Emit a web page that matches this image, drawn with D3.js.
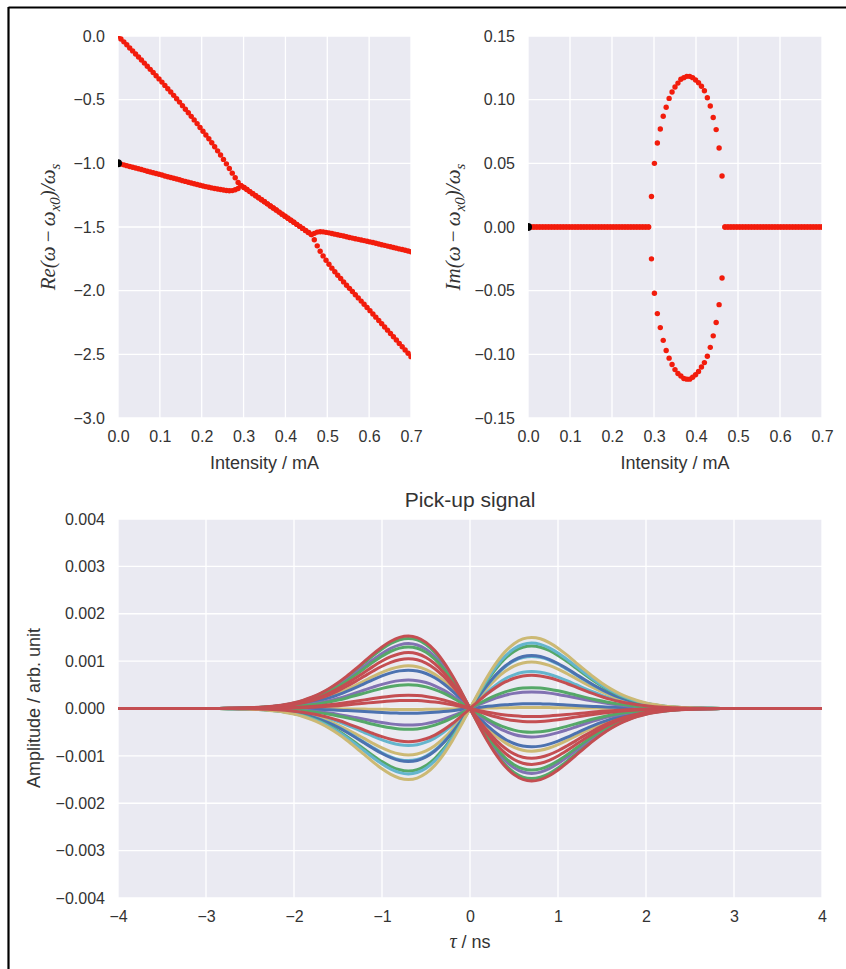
<!DOCTYPE html>
<html><head><meta charset="utf-8">
<script src="https://cdn.jsdelivr.net/npm/d3@7"></script>
<style>
body{margin:0;background:#fff}
svg text{font-family:"Liberation Sans",Arial,sans-serif;fill:#333}
</style>
</head><body>
<svg id="c" width="846" height="969"></svg>
<script>
// ---------------- DATA ----------------
const intensityStart = 0, intensityStep = 0.007, intensityCount = 101;
// Re branch 1 (upper, from 0) up to coalescence, k=0..41
const reUpperBefore = [0.000,-0.023,-0.046,-0.069,-0.094,-0.117,-0.141,-0.165,-0.189,-0.213,-0.238,-0.262,-0.287,-0.312,-0.337,-0.362,-0.388,-0.414,-0.440,-0.466,-0.493,-0.519,-0.547,-0.575,-0.603,-0.631,-0.659,-0.688,-0.718,-0.748,-0.777,-0.807,-0.838,-0.870,-0.902,-0.935,-0.969,-1.004,-1.040,-1.077,-1.113,-1.150];
// Re branch 2 (lower, from -1) up to coalescence, k=0..41
const reLowerBefore = [-1.000,-1.006,-1.012,-1.018,-1.025,-1.031,-1.037,-1.043,-1.049,-1.055,-1.062,-1.068,-1.074,-1.080,-1.086,-1.092,-1.099,-1.105,-1.111,-1.117,-1.123,-1.129,-1.136,-1.142,-1.148,-1.154,-1.160,-1.166,-1.172,-1.178,-1.183,-1.188,-1.193,-1.198,-1.202,-1.206,-1.210,-1.213,-1.215,-1.214,-1.208,-1.198];
// common Re part while the modes are coupled, k=42..66
const reCoupled = [-1.175,-1.190,-1.206,-1.222,-1.238,-1.254,-1.270,-1.286,-1.302,-1.318,-1.335,-1.351,-1.367,-1.383,-1.399,-1.415,-1.431,-1.447,-1.463,-1.479,-1.495,-1.511,-1.527,-1.543,-1.559];
// after decoupling, k=67..100
const reUpperAfter = [-1.550,-1.540,-1.537,-1.538,-1.542,-1.546,-1.551,-1.556,-1.561,-1.566,-1.571,-1.577,-1.582,-1.587,-1.592,-1.597,-1.602,-1.607,-1.612,-1.617,-1.622,-1.628,-1.633,-1.639,-1.644,-1.650,-1.655,-1.661,-1.666,-1.672,-1.677,-1.683,-1.688,-1.694];
const reLowerAfter = [-1.600,-1.648,-1.690,-1.727,-1.761,-1.793,-1.823,-1.851,-1.879,-1.905,-1.931,-1.957,-1.982,-2.007,-2.032,-2.057,-2.082,-2.107,-2.132,-2.157,-2.183,-2.208,-2.234,-2.259,-2.285,-2.310,-2.336,-2.362,-2.388,-2.414,-2.440,-2.466,-2.492,-2.518];
// Im parts in the coupled region, k=42..66
const imPositive = [0.024,0.050,0.066,0.077,0.087,0.094,0.101,0.106,0.110,0.113,0.116,0.1173,0.1183,0.1183,0.1173,0.1155,0.1133,0.1105,0.107,0.1015,0.095,0.086,0.0765,0.062,0.040];
const imNegative = [-0.025,-0.052,-0.068,-0.079,-0.089,-0.097,-0.103,-0.108,-0.112,-0.115,-0.117,-0.119,-0.1195,-0.1195,-0.118,-0.116,-0.1135,-0.110,-0.1065,-0.1015,-0.0945,-0.0855,-0.075,-0.061,-0.040];
const coupledStart = 42, coupledEnd = 66;
const startMarkerRe = [0, -1.0];
const startMarkerIm = [0, 0.0];

const reTicks = [0.0,-0.5,-1.0,-1.5,-2.0,-2.5,-3.0];
const imTicks = [0.15,0.10,0.05,0.00,-0.05,-0.10,-0.15];
const intensityTicks = [0.0,0.1,0.2,0.3,0.4,0.5,0.6,0.7];

// Pick-up signal
const tauStart = -4, tauStep = 0.1;
const pulseShape = [0,0,0,0,0,0,0,0,0,0,
 0.0007,0.0012,0.0021,0.0037,0.0062,0.0100,0.0158,0.0245,0.0371,0.0549,0.0795,0.1125,0.1554,0.2097,0.2765,0.3557,0.4463,0.5458,0.6502,0.7537,0.8489,0.9276,0.9806,1.0,0.9787,0.9125,0.8002,0.6446,0.4522,0.2331,
 0,
 -0.2331,-0.4522,-0.6446,-0.8002,-0.9125,-0.9787,-1.0,-0.9806,-0.9276,-0.8489,-0.7537,-0.6502,-0.5458,-0.4463,-0.3557,-0.2765,-0.2097,-0.1554,-0.1125,-0.0795,-0.0549,-0.0371,-0.0245,-0.0158,-0.0100,-0.0062,-0.0037,-0.0021,-0.0012,-0.0007,
 0,0,0,0,0,0,0,0,0,0];
const pickupAmplitude = [0.00148,0.00137,0.0013,0.0009,0.00081,0.0006,0.0005,-0.00002,-0.0001,-0.00035,-0.00044,-0.00078,-0.00098,-0.0011,-0.00112,-0.00132,-0.00138,-0.0015,0.00153,0.00118,0.00105,0.00028,0.00017,-0.0007];
const pickupColorIndex = [1,3,1,4,0,3,1,4,0,3,1,5,4,5,0,1,5,4,2,2,2,2,2,2];
const tauTicks = [-4,-3,-2,-1,0,1,2,3,4];
const ampTicks = [0.004,0.003,0.002,0.001,0.000,-0.001,-0.002,-0.003,-0.004];

// ---------------- STYLE ----------------
const palette = ["#4C72B0","#55A868","#C44E52","#8172B2","#CCB974","#64B5CD"];
const bg = "#EAEAF2", dotColor = "#f21c0c", textColor = "#333";

const svg = d3.select("#c");
// frame
svg.append("line").attr("x1",8.5).attr("x2",846).attr("y1",7.5).attr("y2",7.5).attr("stroke","#000").attr("stroke-width",2.2);
svg.append("line").attr("x1",8.5).attr("x2",8.5).attr("y1",7).attr("y2",969).attr("stroke","#000").attr("stroke-width",2.2);

const intensity = d3.range(intensityCount).map(k => intensityStart + k*intensityStep);
const re1 = reUpperBefore.concat(reCoupled, reUpperAfter);
const re2 = reLowerBefore.concat(reCoupled, reLowerAfter);
const im1 = intensity.map((v,k)=> (k>=coupledStart && k<=coupledEnd) ? imPositive[k-coupledStart] : 0);
const im2 = intensity.map((v,k)=> (k>=coupledStart && k<=coupledEnd) ? imNegative[k-coupledStart] : 0);

function panel(id, x0, x1, y0, y1, xDom, yDom, xTicks, yTicks, xFmt, yFmt){
  const x = d3.scaleLinear().domain(xDom).range([x0,x1]);
  const y = d3.scaleLinear().domain(yDom).range([y1,y0]);
  const g = svg.append("g");
  g.append("rect").attr("x",x0).attr("y",y0).attr("width",x1-x0).attr("height",y1-y0).attr("fill",bg);
  g.append("g").selectAll("line").data(xTicks).join("line")
    .attr("x1",d=>x(d)).attr("x2",d=>x(d)).attr("y1",y0).attr("y2",y1)
    .attr("stroke","#fff").attr("stroke-width",1.3);
  g.append("g").selectAll("line").data(yTicks).join("line")
    .attr("y1",d=>y(d)).attr("y2",d=>y(d)).attr("x1",x0).attr("x2",x1)
    .attr("stroke","#fff").attr("stroke-width",1.3);
  const xa = g.append("g").attr("transform",`translate(0,${y1})`)
    .call(d3.axisBottom(x).tickValues(xTicks).tickFormat(xFmt).tickSize(0).tickPadding(13));
  const ya = g.append("g").attr("transform",`translate(${x0},0)`)
    .call(d3.axisLeft(y).tickValues(yTicks).tickFormat(yFmt).tickSize(0).tickPadding(13));
  [xa,ya].forEach(a=>{a.select(".domain").remove(); a.selectAll("text").attr("font-size",16).attr("font-family","Liberation Sans, Arial, sans-serif").attr("fill",textColor);});
  svg.append("clipPath").attr("id",id).append("rect").attr("x",x0).attr("y",y0).attr("width",x1-x0).attr("height",y1-y0);
  const plot = svg.append("g").attr("clip-path",`url(#${id})`);
  return {x,y,plot};
}
const minus = s => s.replace(/-/g,"\u2212");
const f1 = d => minus(d3.format(".1f")(d));
const f2 = d => minus(d3.format(".2f")(d));
const f3 = d => minus(d3.format(".3f")(d));
const f0 = d => minus(d3.format("d")(d));

// --- Re panel
const P1 = panel("cp1",118,411,36,418,[0,0.7],[-3,0],intensityTicks,reTicks,f1,f1);
[re1,re2].forEach(s=>{
  P1.plot.append("g").selectAll("circle").data(intensity.map((v,i)=>[v,s[i]])).join("circle")
    .attr("cx",d=>P1.x(d[0])).attr("cy",d=>P1.y(d[1])).attr("r",2.7).attr("fill",dotColor);
});
P1.plot.append("circle").attr("cx",P1.x(startMarkerRe[0])).attr("cy",P1.y(startMarkerRe[1])).attr("r",4).attr("fill","#000");

// --- Im panel
const P2 = panel("cp2",528,822,36,418,[0,0.7],[-0.15,0.15],intensityTicks,imTicks,f1,f2);
[im1,im2].forEach(s=>{
  P2.plot.append("g").selectAll("circle").data(intensity.map((v,i)=>[v,s[i]])).join("circle")
    .attr("cx",d=>P2.x(d[0])).attr("cy",d=>P2.y(d[1])).attr("r",2.7).attr("fill",dotColor);
});
P2.plot.append("circle").attr("cx",P2.x(startMarkerIm[0])).attr("cy",P2.y(startMarkerIm[1])).attr("r",4).attr("fill","#000");

function xlabel(txt,cx,cy){svg.append("text").attr("x",cx).attr("y",cy).attr("text-anchor","middle").attr("font-size",18).attr("fill",textColor).text(txt);}
xlabel("Intensity / mA",264.5,469);
xlabel("Intensity / mA",675,469);

function mathLabel(prefix,cx,cy){
  const t = svg.append("text").attr("transform",`translate(${cx},${cy}) rotate(-90)`)
    .attr("text-anchor","middle").attr("font-size",21).attr("fill",textColor)
    .style("font-family","'Liberation Serif','DejaVu Serif',serif");
  t.append("tspan").attr("font-style","italic").text(prefix+"(\u03C9");
  t.append("tspan").text("\u2009\u2212\u2009");
  t.append("tspan").attr("font-style","italic").text("\u03C9");
  t.append("tspan").attr("font-style","italic").attr("font-size",15).attr("dy",5).text("x0");
  t.append("tspan").attr("font-style","italic").attr("dy",-5).text(")/\u03C9");
  t.append("tspan").attr("font-style","italic").attr("font-size",15).attr("dy",5).text("s");
}
mathLabel("Re",55,227);
mathLabel("Im",460,227);

// --- Pick-up panel
const P3 = panel("cp3",118,822,519,898,[-4,4],[-0.004,0.004],tauTicks,ampTicks,f0,f3);
const tau = pulseShape.map((v,i)=>tauStart+i*tauStep);
const line = d3.line().x(d=>P3.x(d[0])).y(d=>P3.y(d[1])).curve(d3.curveCatmullRom);
pickupAmplitude.forEach((a,j)=>{
  P3.plot.append("path").datum(tau.map((t,i)=>[t,a*pulseShape[i]]))
    .attr("d",line).attr("fill","none").attr("stroke",palette[pickupColorIndex[j]]).attr("stroke-width",3);
});
svg.append("text").attr("x",470).attr("y",507).attr("text-anchor","middle").attr("font-size",21).attr("fill",textColor).text("Pick-up signal");
const tl = svg.append("text").attr("x",470).attr("y",948).attr("text-anchor","middle").attr("font-size",18).attr("fill",textColor);
tl.append("tspan").attr("font-style","italic").style("font-family","'Liberation Serif',serif").attr("font-size",20).text("\u03C4");
tl.append("tspan").text(" / ns");
svg.append("text").attr("transform","translate(40,708) rotate(-90)").attr("text-anchor","middle").attr("font-size",18).attr("fill",textColor).text("Amplitude / arb. unit");
</script>
</body></html>
